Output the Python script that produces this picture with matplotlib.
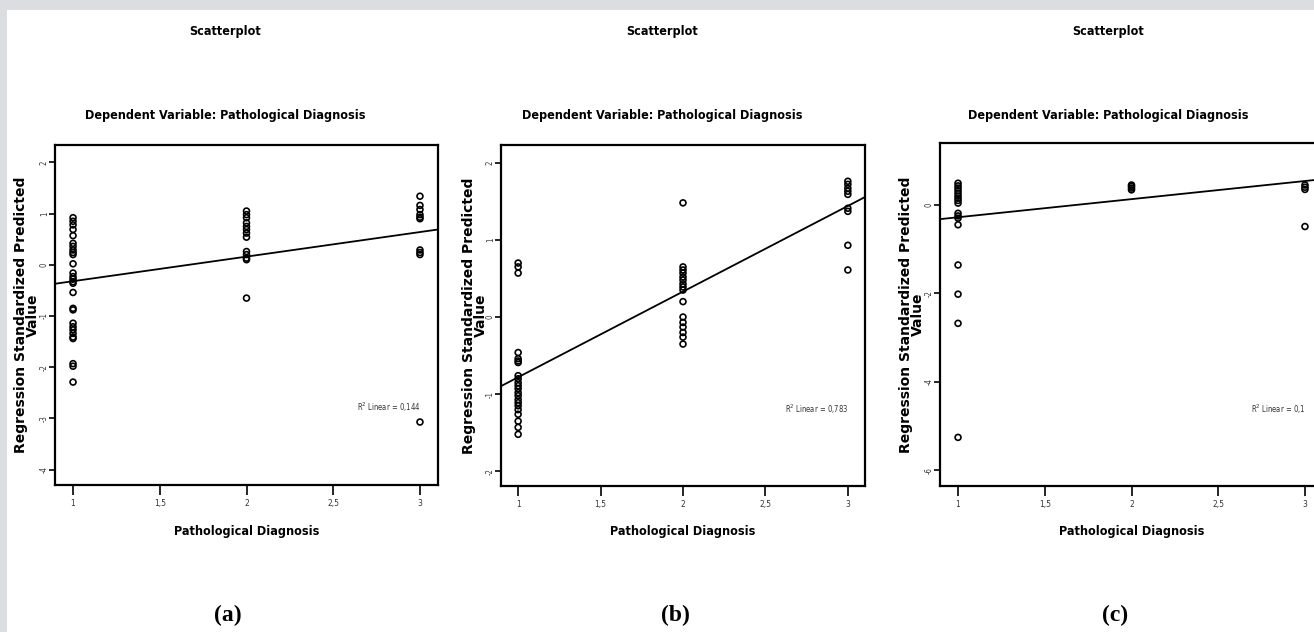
import matplotlib
matplotlib.use('Agg')
from matplotlib import pyplot as plt
from matplotlib import font_manager
from matplotlib.patches import Rectangle
import numpy as np

x_ticks = [1, 1.5, 2, 2.5, 3]
x_tick_labels = ['1', '1,5', '2', '2,5', '3']

a_y1 = [0.92, 0.85, 0.78, 0.69, 0.57, 0.42, 0.36, 0.29, 0.24, 0.20, 0.02, -0.16, -0.23, -0.28,
        -0.33, -0.36, -0.54, -0.85, -0.88, -1.14, -1.21, -1.27, -1.34, -1.41, -1.44, -1.93, -1.98, -2.29]
a_y2 = [1.05, 0.98, 0.92, 0.82, 0.75, 0.69, 0.62, 0.54, 0.26, 0.20, 0.13, 0.10, -0.65]
a_y3 = [1.34, 1.16, 1.08, 0.98, 0.93, 0.90, 0.29, 0.24, 0.20, -3.07]
a_fit = [-0.32, 0.48]  # value at x=1, slope
a_r2 = '0,144'

b_y1 = [0.70, 0.65, 0.57, -0.46, -0.54, -0.57, -0.59, -0.76, -0.80, -0.85, -0.89, -0.93, -0.98,
        -1.02, -1.07, -1.11, -1.15, -1.20, -1.26, -1.35, -1.43, -1.52]
b_y2 = [1.48, 0.65, 0.61, 0.57, 0.52, 0.48, 0.43, 0.39, 0.35, 0.20, 0.0, -0.07, -0.13, -0.20, -0.26, -0.35]
b_y3 = [1.76, 1.72, 1.67, 1.63, 1.59, 1.41, 1.37, 0.93, 0.61]
b_fit = [-0.78, 1.11]
b_r2 = '0,783'

c_y1 = [0.49, 0.43, 0.38, 0.32, 0.26, 0.20, 0.15, 0.10, 0.04, -0.19, -0.25, -0.30, -0.45,
        -1.36, -2.02, -2.68, -5.26]
c_y2 = [0.45, 0.42, 0.38, 0.34]
c_y3 = [0.45, 0.40, 0.35, -0.49]
c_fit = [-0.28, 0.41]
c_r2 = '0,1'

# look for a narrow bold font (SPSS titles are condensed)
narrow_bold = None
narrow_reg = None
for f in font_manager.fontManager.ttflist:
    fn = f.fname.lower()
    if 'narrow' in fn or 'condensed' in fn:
        if 'bold' in fn and 'italic' not in fn and 'oblique' not in fn and narrow_bold is None:
            narrow_bold = f.fname
        if 'bold' not in fn and 'italic' not in fn and 'oblique' not in fn and narrow_reg is None:
            narrow_reg = f.fname
if narrow_bold:
    title_fp = font_manager.FontProperties(fname=narrow_bold)
    title_size = 9
else:
    title_fp = font_manager.FontProperties(family='Liberation Sans', weight='bold')
    title_size = 8
if narrow_reg:
    small_fp = font_manager.FontProperties(fname=narrow_reg)
else:
    small_fp = font_manager.FontProperties(family='Liberation Sans')

fig = plt.figure(figsize=(13.14, 6.32), dpi=100)
fig.patch.set_facecolor('white')
fig.patches.append(Rectangle((0, 1 - 10 / 632), 1, 10 / 632, transform=fig.transFigure,
                             facecolor='#dcdde0', edgecolor='none', zorder=0))
fig.patches.append(Rectangle((0, 0), 7 / 1314, 1, transform=fig.transFigure,
                             facecolor='#dcdde0', edgecolor='none', zorder=0))

panels = [
    dict(pos=[55, 145, 383, 340], ylim=(-4.3, 2.34), yticks=[2, 1, 0, -1, -2, -3, -4],
         ys=(a_y1, a_y2, a_y3), fit=a_fit, r2=a_r2, r2y=-2.79, cx=225, lx=27, tag='(a)', tagx=228),
    dict(pos=[501, 145, 364, 341], ylim=(-2.19, 2.23), yticks=[2, 1, 0, -1, -2],
         ys=(b_y1, b_y2, b_y3), fit=b_fit, r2=b_r2, r2y=-1.19, cx=662, lx=475, tag='(b)', tagx=675),
    dict(pos=[940, 143, 383, 343], ylim=(-6.36, 1.40), yticks=[0, -2, -4, -6],
         ys=(c_y1, c_y2, c_y3), fit=c_fit, r2=c_r2, r2y=-4.62, cx=1108, lx=912, tag='(c)', tagx=1115),
]

W, H = 1314, 632
for p in panels:
    l, t, w, h = p['pos']
    ax = fig.add_axes([l / W, 1 - (t + h) / H, w / W, h / H])
    for xv, ys in zip([1, 2, 3], p['ys']):
        ax.scatter([xv] * len(ys), ys, s=18, facecolors='none', edgecolors='black', linewidths=1.2, zorder=3)
    xx = np.array([0.85, 3.2])
    ax.plot(xx, p['fit'][0] + p['fit'][1] * (xx - 1), color='black', lw=1.3, zorder=2)
    ax.set_xlim(0.896, 3.104)
    ax.set_ylim(*p['ylim'])
    ax.set_xticks(x_ticks)
    ax.set_xticklabels(x_tick_labels, fontproperties=small_fp, fontsize=6, color='#333333')
    ax.set_yticks(p['yticks'])
    ax.set_yticklabels([str(v) for v in p['yticks']], fontproperties=small_fp, fontsize=5.5,
                       rotation=90, va='center', color='#333333')
    ax.tick_params(axis='x', direction='out', length=7, width=1.2, pad=3)
    ax.tick_params(axis='y', direction='out', length=4, width=1.2, pad=0.5)
    for s in ax.spines.values():
        s.set_linewidth(1.6)
    ax.text(3.0, p['r2y'], 'R$^2$ Linear = ' + p['r2'], ha='right', va='center',
            fontproperties=small_fp, fontsize=5.5, color='#333333')

    cy = 1 - (t + h / 2) / H
    fig.text(p['lx'] / W, cy, 'Regression Standardized Predicted\nValue', rotation=90,
             ha='center', va='center', fontsize=10, fontweight='bold', linespacing=0.8)
    fig.text(p['cx'] / W, 1 - 32 / H, 'Scatterplot', ha='center', va='center',
             fontproperties=title_fp, fontsize=title_size)
    fig.text(p['cx'] / W, 1 - 116 / H, 'Dependent Variable: Pathological Diagnosis', ha='center',
             va='center', fontproperties=title_fp, fontsize=title_size)
    fig.text((l + w / 2) / W, 1 - 532 / H, 'Pathological Diagnosis', ha='center', va='center',
             fontproperties=title_fp, fontsize=title_size)
    fig.text(p['tagx'] / W, 1 - 615 / H, p['tag'], ha='center', va='center',
             fontsize=17, fontweight='bold', family='Liberation Serif')

fig.savefig('out.png', dpi=100)
